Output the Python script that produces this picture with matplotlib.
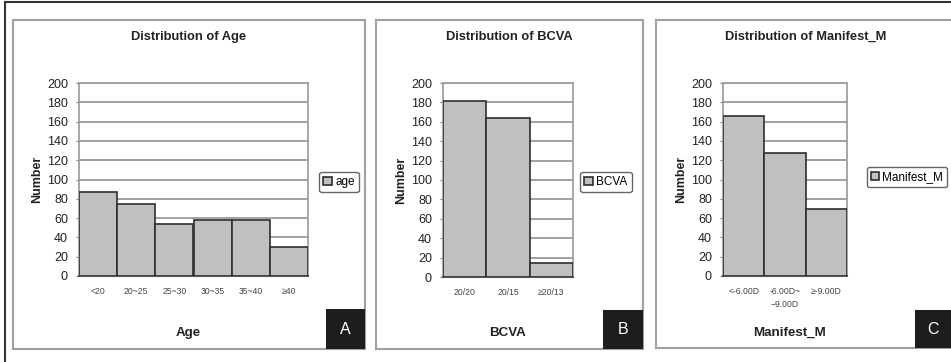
import matplotlib
matplotlib.use('Agg')
import matplotlib.pyplot as plt
from matplotlib.patches import Rectangle
from matplotlib.lines import Line2D

plt.rcParams['font.family'] = ['Liberation Sans', 'DejaVu Sans']

W, H = 951, 362

age_labels = ['<20', '20~25', '25~30', '30~35', '35~40', '≥40']
age_counts = [87, 75, 54, 58, 58, 30]

bcva_labels = ['20/20', '20/15', '≥20/13']
bcva_counts = [181, 164, 14]

manifest_labels = ['<-6.00D', '-6.00D~\n−9.00D', '≥-9.00D']
manifest_counts = [166, 127, 69]

y_ticks = list(range(0, 201, 20))

BAR_FILL = '#c0c0c0'
BAR_EDGE = '#2e2e2e'
GRID = '#9a9a9a'
FRAME = '#a0a0a0'

fig = plt.figure(figsize=(W / 100, H / 100), dpi=100)


def frac(x0, y0, x1, y1):
    """Pixel box (top-left origin) -> figure-fraction rect."""
    return [x0 / W, 1 - y1 / H, (x1 - x0) / W, (y1 - y0) / H]


def fx(x):
    return x / W


def fy(y):
    return 1 - y / H


# outer frame (top and left edges)
fig.add_artist(Line2D([fx(5), fx(951)], [fy(2), fy(2)], color='#333333', lw=1.5))
fig.add_artist(Line2D([fx(5), fx(5)], [fy(2), fy(362)], color='#333333', lw=1.5))

panels = [
    dict(box=(13, 20, 365, 349), ax=(79, 83, 308, 276), title='Distribution of Age',
         xlabel='Age', xlabel_x=188, legend='age', labels=age_labels,
         counts=age_counts, leg_center=(339, 182), letter='A',
         letter_box=(326, 309, 365, 349)),
    dict(box=(376, 20, 643, 349), ax=(443, 83, 573, 277), title='Distribution of BCVA',
         xlabel='BCVA', xlabel_x=508, legend='BCVA', labels=bcva_labels,
         counts=bcva_counts, leg_center=(606, 182), letter='B',
         letter_box=(603, 310, 643, 349)),
    dict(box=(656, 20, 956, 348), ax=(723, 83, 847, 276),
         title='Distribution of Manifest_M', xlabel='Manifest_M', xlabel_x=790,
         legend='Manifest_M', labels=manifest_labels, counts=manifest_counts,
         leg_center=(907, 177), letter='C', letter_box=(915, 310, 956, 348)),
]

for p in panels:
    x0, y0, x1, y1 = p['box']
    fig.add_artist(Rectangle((fx(x0), fy(y1)), (x1 - x0) / W, (y1 - y0) / H,
                             transform=fig.transFigure, facecolor='white',
                             edgecolor=FRAME, lw=1.5, zorder=0))

    ax = fig.add_axes(frac(*p['ax']))
    n = len(p['counts'])
    xs = list(range(n))
    ax.bar(xs, p['counts'], width=1.0, color=BAR_FILL, edgecolor=BAR_EDGE,
           linewidth=1.2, label=p['legend'], zorder=3)
    ax.set_xlim(-0.5, n - 0.5)
    ax.set_ylim(0, 200)
    ax.set_yticks(y_ticks)
    ax.set_yticklabels([str(v) for v in y_ticks], fontsize=9, color='#222222')
    ax.set_xticks(xs)
    ax.set_xticklabels(p['labels'], fontsize=6.2, color='#444444',
                       linespacing=1.6)
    ax.yaxis.grid(True, color=GRID, lw=1.3, zorder=0)
    ax.set_axisbelow(True)
    for side in ['top', 'right', 'left']:
        ax.spines[side].set_color(FRAME)
        ax.spines[side].set_linewidth(1.3)
    ax.spines['bottom'].set_color('#555555')
    ax.spines['bottom'].set_linewidth(1.5)
    ax.tick_params(axis='x', length=0, pad=8)
    ax.tick_params(axis='y', length=2, width=0.8, color='#777777', pad=6)
    ax.set_ylabel('Number', fontsize=9, fontweight='bold', labelpad=3,
                  color='#222222')

    fig.text(fx((x0 + x1) / 2), fy(37), p['title'], ha='center', va='center',
             fontsize=9.3, fontweight='bold', color='#222222')
    fig.text(fx(p['xlabel_x']), fy(333), p['xlabel'], ha='center', va='center',
             fontsize=9.6, fontweight='bold', color='#222222')

    lcx, lcy = p['leg_center']
    ax.legend(loc='center', bbox_to_anchor=(fx(lcx), fy(lcy)),
              bbox_transform=fig.transFigure, fontsize=8.5, frameon=True,
              fancybox=True, edgecolor='#666666', framealpha=1,
              handlelength=0.7, handleheight=0.7, handletextpad=0.3,
              borderpad=0.35, borderaxespad=0)

    bx0, by0, bx1, by1 = p['letter_box']
    fig.add_artist(Rectangle((fx(bx0), fy(by1)), (bx1 - bx0) / W, (by1 - by0) / H,
                             transform=fig.transFigure, facecolor='#1e1c1c',
                             edgecolor='none', zorder=5))
    fig.text(fx((bx0 + min(bx1, 951)) / 2), fy((by0 + by1) / 2), p['letter'],
             ha='center', va='center', color='white', fontsize=11.5, zorder=6)

fig.savefig('out.png', dpi=100, facecolor='white')
